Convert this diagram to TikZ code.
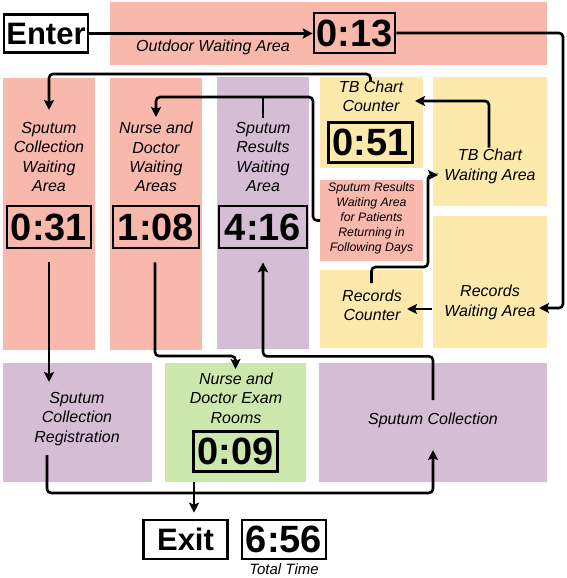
\documentclass[tikz,border=0pt]{standalone}
\usepackage{fontspec}
\setmainfont{Liberation Sans}
\usetikzlibrary{arrows.meta,calc}
\definecolor{cpink}{HTML}{F8B8AC}
\definecolor{cpurple}{HTML}{D5BDD6}
\definecolor{cyellow}{HTML}{FDE9AC}
\definecolor{cgreen}{HTML}{CCE8AC}
\begin{document}
\begin{tikzpicture}[x=1pt,y=-1pt,
  zone/.style={draw=none,inner sep=0pt,outer sep=0pt},
  lbl/.style={font=\fontsize{16}{19.4}\selectfont\itshape,align=center,inner sep=0pt},
  smalllbl/.style={font=\fontsize{12.3}{15}\selectfont\itshape,align=center,inner sep=0pt},
  tbox/.style={draw,line width=2.6pt,font=\fontsize{38}{38}\selectfont\bfseries,inner sep=0pt,minimum width=84pt,minimum height=40pt},
  ebox/.style={draw,line width=2.6pt,font=\fontsize{31}{31}\selectfont\bfseries,inner sep=0pt,minimum width=84pt,minimum height=38pt},
  conn/.style={line width=2.6pt,rounded corners=4pt},
  arr/.style={conn,-{Stealth[length=10pt,width=10pt,inset=2pt]}},
]
\useasboundingbox (0,0) rectangle (567,578);
\fill[white] (0,0) rectangle (567,578);

% zones
\node[zone,fill=cpink,minimum width=437pt,minimum height=63pt] (outdoor) at (328.5,33.5) {};
\node[zone,fill=cpink,minimum width=92pt,minimum height=272pt] (scw) at (49,214) {};
\node[zone,fill=cpink,minimum width=92pt,minimum height=272pt] (ndw) at (156,214) {};
\node[zone,fill=cpurple,minimum width=92pt,minimum height=272pt] (srw) at (263,213) {};
\node[zone,fill=cyellow,minimum width=103pt,minimum height=91pt] (tbc) at (371.5,122.5) {};
\node[zone,fill=cyellow,minimum width=114pt,minimum height=129pt] (twa) at (490,141.5) {};
\node[zone,fill=cpink,minimum width=103pt,minimum height=81pt] (srr) at (371.5,220.5) {};
\node[zone,fill=cyellow,minimum width=103pt,minimum height=78pt] (rc) at (371.5,309) {};
\node[zone,fill=cyellow,minimum width=114pt,minimum height=132pt] (rwa) at (490,282) {};
\node[zone,fill=cpurple,minimum width=149pt,minimum height=119pt] (reg) at (77.5,422.5) {};
\node[zone,fill=cgreen,minimum width=141pt,minimum height=119pt] (exam) at (235.5,422.5) {};
\node[zone,fill=cpurple,minimum width=228pt,minimum height=119pt] (sc) at (433,422.5) {};

% labels
\node[lbl] (outdoorT) at (213,47.5) {Outdoor Waiting Area};
\node[lbl] (scwT) at (49,157) {Sputum\\Collection\\Waiting\\Area};
\node[lbl] (ndwT) at (156,157) {Nurse and\\Doctor\\Waiting\\Areas};
\node[lbl] (srwT) at (263,157) {Sputum\\Results\\Waiting\\Area};
\node[lbl] (tbcT) at (371,96.5) {TB Chart\\Counter};
\node[lbl] (twaT) at (490,166.5) {TB Chart\\Waiting Area};
\node[smalllbl] (srrT) at (371.5,218) {Sputum Results\\Waiting Area\\for Patients\\Returning in\\Following Days};
\node[lbl] (rcT) at (372,305) {Records\\Counter};
\node[lbl] (rwaT) at (490,302.5) {Records\\Waiting Area};
\node[lbl] (regT) at (77,419) {Sputum\\Collection\\Registration};
\node[lbl] (examT) at (236,398) {Nurse and\\Doctor Exam\\Rooms};
\node[lbl] (scT) at (433,420) {Sputum Collection};
\node[font=\fontsize{15}{16}\selectfont\itshape,inner sep=0pt] (totalT) at (284,569) {Total Time};

% boxes
\node[ebox] (enter) at (46,33.5) {Enter};
\node[tbox,minimum width=81pt] (t013) at (354.5,33) {0:13};
\node[tbox,minimum height=42pt] (t031) at (49,227) {0:31};
\node[tbox,minimum width=86pt,minimum height=42pt] (t108) at (156,227) {1:08};
\node[tbox,minimum width=88pt,minimum height=42pt] (t416) at (263,227) {4:16};
\node[tbox] (t051) at (370.5,142.5) {0:51};
\node[tbox] (t009) at (235.5,451.5) {0:09};
\node[ebox,minimum height=39pt] (exit) at (185.5,539.5) {Exit};
\node[tbox,minimum height=39pt] (t656) at (284,539.5) {6:56};

% connectors
\draw[arr] (enter.east) -- (enter.east -| t013.west);
\draw[arr] (t013.east) -| ($(rwa.east)+(16,26)$) -- ($(rwa.east)+(-8,26)$);
\draw[arr] ($(tbc.north)+(-1,4)$) |- ($(scw.north)+(0,-4)$) -- ($(scw.north)+(0,32)$);
\draw[arr] (srr.west) -- ++(-7,0) |- ($(ndw.north)+(0,19)$) -- ($(ndw.north)+(0,39)$);
\draw[conn] ($(srw.north)+(0,41)$) -- ($(srw.north)+(0,19)$);
\draw[arr] ($(twa.center)+(-1,6)$) |- ($(tbc.east)+(-8,-21.5)$);
\draw[arr] ($(rwa.west)+(-1,27)$) -- ($(rc.east)+(-16,0)$);
\draw[arr] ($(rc.north)+(0,13)$) |- ($(rc.north)+(56.5,-3)$) |- ($(twa.west)+(5,33.5)$);
\draw[arr] ($(t031.south)+(0,13)$) -- ($(reg.north)+(-28.5,19)$);
\draw[arr] ($(t108.south)+(-1,13)$) |- ($(exam.north)+(0,-7)$) -- ($(exam.north)+(0,6)$);
\draw[arr] ($(sc.north)+(0,37)$) |- ($(t416.south)+(0,107)$) -- ($(t416.south)+(0,13)$);
\draw[arr] ($(reg.south)+(-30.5,-27)$) |- ($(sc.south)+(0,11)$) -- ($(sc.south)+(0,-32)$);
\draw[arr] ($(exam.south)+(-41.5,0)$) -- ($(exit.north)+(8.5,-6)$);
\end{tikzpicture}
\end{document}
